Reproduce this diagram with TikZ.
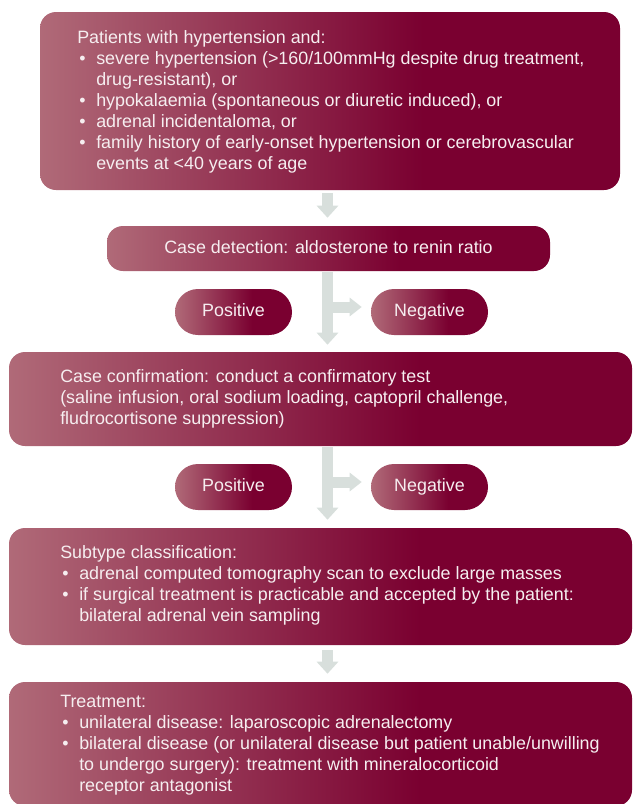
\documentclass[tikz,border=0pt]{standalone}
\usepackage{fontspec}
\setmainfont{Liberation Sans}
\usetikzlibrary{arrows.meta}
\definecolor{lightc}{HTML}{B06A78}
\definecolor{darkc}{HTML}{7A0030}
\definecolor{arrc}{HTML}{D8DFDC}
\definecolor{txtc}{HTML}{F6EEF0}
\pgfdeclarehorizontalshading{boxshade}{100bp}{color(0bp)=(lightc); color(25bp)=(lightc); color(58bp)=(darkc); color(100bp)=(darkc)}
\newcommand\myfont{\fontsize{13.4pt}{15.75pt}\selectfont}
\newcommand\bul{\makebox[14.25pt][l]{\hspace{1.5pt}•}}
\newcommand\ind{\hspace*{14.25pt}}
\begin{document}
\begin{tikzpicture}[x=0.75pt,y=-0.75pt,
  box/.style={shading=boxshade, rounded corners=12pt, inner sep=0pt, text=txtc, font=\myfont, text height=9.6pt, text depth=2.6pt},
  pill/.style={shading=boxshade, rounded corners=17.25pt, minimum width=87.75pt, minimum height=34.5pt, inner sep=0pt, text=txtc, font=\myfont, text height=9.6pt, text depth=2.6pt},
  txt/.style={text=txtc, font=\myfont, align=left, inner sep=0pt, anchor=west},
  arr/.style={draw=arrc, line width=8.25pt, -{Triangle[width=15.75pt,length=9pt]}},
  brarr/.style={draw=arrc, line width=8.25pt, -{Triangle[width=13.5pt,length=9pt]}}]
\useasboundingbox (0,0) rectangle (633,804);
% boxes
\node[box, minimum width=435pt, minimum height=133.5pt] (b1) at (330,101) {};
\node[box, minimum width=332.25pt, minimum height=33.75pt] (b2) at (328.5,248.5) {Case detection: aldosterone to renin ratio};
\node[pill] (p1) at (233.5,312) {Positive};
\node[pill] (n1) at (429.5,312) {Negative};
\node[box, minimum width=467.25pt, minimum height=70.5pt] (b3) at (320.5,399) {};
\node[pill] (p2) at (233.5,487) {Positive};
\node[pill] (n2) at (429.5,487) {Negative};
\node[box, minimum width=467.25pt, minimum height=87.75pt] (b4) at (320.5,586.5) {};
\node[box, minimum width=467.25pt, minimum height=93pt] (b5) at (320.5,744) {};
% texts
\node[txt] (t1) at (77,102) {Patients with hypertension and:\\
\bul severe hypertension (>160/100mmHg despite drug treatment,\\
\ind drug-resistant), or\\
\bul hypokalaemia (spontaneous or diuretic induced), or\\
\bul adrenal incidentaloma, or\\
\bul family history of early-onset hypertension or cerebrovascular\\
\ind events at <40 years of age};
\node[txt] (t3) at (60,398.5) {Case confirmation: conduct a confirmatory test\\
(saline infusion, oral sodium loading, captopril challenge,\\
fludrocortisone suppression)};
\node[txt] (t4) at (60,585.5) {Subtype classification:\\
\bul adrenal computed tomography scan to exclude large masses\\
\bul if surgical treatment is practicable and accepted by the patient:\\
\ind bilateral adrenal vein sampling};
\node[txt] (t5) at (60,745) {Treatment:\\
\bul unilateral disease: laparoscopic adrenalectomy\\
\bul bilateral disease (or unilateral disease but patient unable/unwilling\\
\ind to undergo surgery): treatment with mineralocorticoid\\
\ind receptor antagonist};
% arrows
\coordinate (ax) at (327.5,0);
\draw[arr, shorten <=2.25pt, shorten >=6pt] (b1.south -| ax) -- (b2.north -| ax);
\draw[arr, shorten <=0.75pt, shorten >=5.25pt] (b2.south -| ax) -- (b3.north -| ax);
\coordinate (br1) at (327.5,307);
\draw[brarr, shorten >=6.75pt] (br1) -- (br1 -| n1.west);
\draw[arr, shorten <=0.75pt, shorten >=6pt] (b3.south -| ax) -- (b4.north -| ax);
\coordinate (br2) at (327.5,482);
\draw[brarr, shorten >=6.75pt] (br2) -- (br2 -| n2.west);
\draw[arr, shorten <=3.75pt, shorten >=6pt] (b4.south -| ax) -- (b5.north -| ax);
\end{tikzpicture}
\end{document}
